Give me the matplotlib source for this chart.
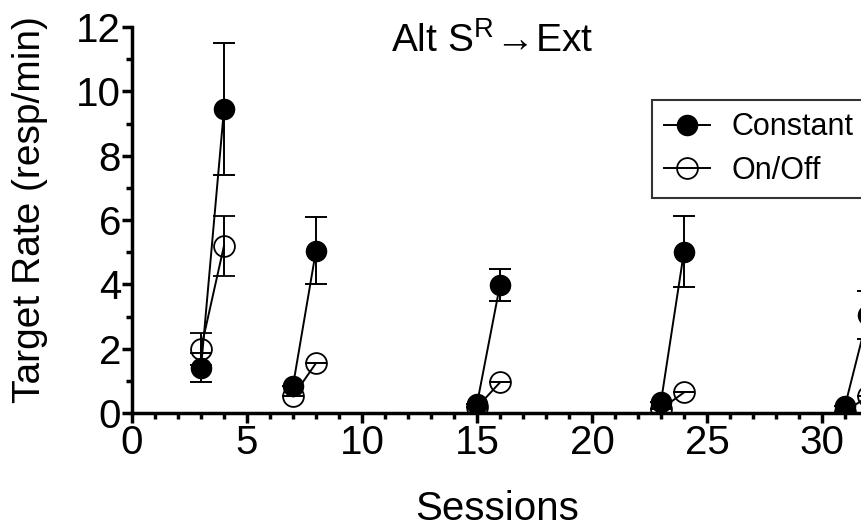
import matplotlib
matplotlib.use("Agg")
import matplotlib.pyplot as plt
from matplotlib.ticker import MultipleLocator

plt.rcParams['font.family'] = ['Liberation Sans', 'DejaVu Sans']
plt.rcParams['mathtext.fontset'] = 'custom'
plt.rcParams['mathtext.rm'] = 'Liberation Sans'

# sessions of each test pair
pairs = [(3, 4), (7, 8), (15, 16), (23, 24), (31, 32)]

constant_mean = [(1.4, 9.45), (0.85, 5.05), (0.28, 3.98), (0.35, 5.02), (0.22, 3.05)]
constant_err = [(0.45, 2.05), (0.0, 1.05), (0.0, 0.5), (0.0, 1.1), (0.0, 0.75)]

onoff_mean = [(2.0, 5.2), (0.52, 1.55), (0.18, 0.95), (0.12, 0.64), (0.04, 0.52)]
onoff_err = [(0.5, 0.93), (0.0, 0.0), (0.0, 0.0), (0.0, 0.0), (0.0, 0.0)]

fig = plt.figure(figsize=(8.61, 5.31), dpi=100)
ax = fig.add_axes([132 / 861, 118 / 531, 759 / 861, 386 / 531])

for i, (x, y, e) in enumerate(zip(pairs, onoff_mean, onoff_err)):
    ax.errorbar(x, y, yerr=e, color='black', lw=1.4, elinewidth=1.4,
                capsize=8, capthick=1.4, marker='o', markersize=15,
                markerfacecolor='none', markeredgecolor='black',
                markeredgewidth=1.3, label='On/Off' if i == 0 else None,
                zorder=2)

for i, (x, y, e) in enumerate(zip(pairs, constant_mean, constant_err)):
    ax.errorbar(x, y, yerr=e, color='black', lw=1.4, elinewidth=1.4,
                capsize=8, capthick=1.4, marker='o', markersize=14.5,
                markerfacecolor='black', markeredgecolor='black',
                label='Constant' if i == 0 else None, zorder=3)

ax.set_xlim(0, 33)
ax.set_ylim(0, 12)
ax.xaxis.set_major_locator(MultipleLocator(5))
ax.xaxis.set_minor_locator(MultipleLocator(1))
ax.yaxis.set_major_locator(MultipleLocator(2))
ax.yaxis.set_minor_locator(MultipleLocator(1))

for s in ['top', 'right']:
    ax.spines[s].set_visible(False)
for s in ['left', 'bottom']:
    ax.spines[s].set_linewidth(2.5)

ax.tick_params(which='major', length=7, width=2.5, labelsize=29, pad=1)
ax.tick_params(which='minor', length=4, width=2.5)

fig.text(497 / 861, 1 - 520 / 531, 'Sessions', fontsize=29,
         ha='center', va='baseline')
fig.text(30 / 861, 1 - 210 / 531, 'Target Rate (resp/min)', fontsize=28,
         rotation=90, ha='center', va='center')

ax.text(15.65, 11.55, 'Alt S$^{\\mathrm{R}}\\!\\rightarrow\\!$Ext', fontsize=28,
        ha='center', va='center')

handles, labels = ax.get_legend_handles_labels()
order = [labels.index('Constant'), labels.index('On/Off')]
leg = ax.legend([handles[j][0] for j in order], [labels[j] for j in order],
                loc='upper left', bbox_to_anchor=(652 / 861, 1 - 100 / 531),
                bbox_transform=fig.transFigure, fontsize=22, frameon=True,
                fancybox=False, handlelength=1.5, handletextpad=0.7,
                borderpad=0.4, labelspacing=0.45, borderaxespad=0)
leg.get_frame().set_edgecolor('black')
leg.get_frame().set_linewidth(1.5)

fig.savefig('out.png', dpi=100)
